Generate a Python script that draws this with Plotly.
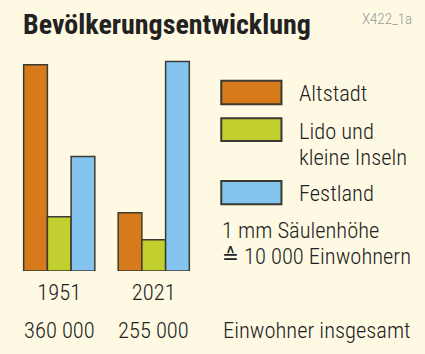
import plotly.graph_objects as go

years = ["1951", "2021"]
series_names = ["Altstadt", "Lido und<br>kleine Inseln", "Festland"]
altstadt = [198, 56]
lido = [52, 30]
festland = [110, 201]
totals = ["360 000", "255 000"]
colors = ["#D67A1B", "#C1D02F", "#84C4EE"]

W, H = 425, 354
L, R, T, B = 12.4, 200.8, 60, 271
FONT = "Roboto Condensed, DejaVu Sans Condensed, sans-serif"
BG = "#FEF9E2"
TXT = "#222222"
FS = 22.5
WT = 300

def px(x):
    return (x - L) / (R - L)

def py(y):
    return (B - y) / (B - T)

fig = go.Figure()
for name, vals, col in zip(series_names, [altstadt, lido, festland], colors):
    fig.add_trace(go.Bar(x=years, y=vals, name=name, marker=dict(color=col, line=dict(color="#3a3a30", width=1.5)),
                         showlegend=False))

# legend swatches
legend_rows = [(80.7, 104.3), (118.3, 141), (181, 204.3)]
for (y0, y1), col in zip(legend_rows, colors):
    fig.add_shape(type="rect", xref="paper", yref="paper", x0=px(221), x1=px(281), y0=py(y1), y1=py(y0),
                  fillcolor=col, line=dict(color="#3a3a30", width=2))

ann = []
def text(x, y, s, size=FS, xanchor="left", color=TXT, weight=WT, family=FONT):
    ann.append(dict(x=px(x), y=py(y), xref="paper", yref="paper", text=s, showarrow=False,
                    xanchor=xanchor, yanchor="middle",
                    font=dict(size=size, color=color, family=family, weight=weight)))

text(296, 93, "Altstadt")
text(296, 130.5, "Lido und")
text(296, 156.5, "kleine Inseln")
text(296, 193, "Festland")
text(220, 230, "1 mm Säulenhöhe")
text(220, 256, "≙ 10 000 Einwohnern")
text(21, 25, "Bevölkerungsentwicklung", size=28, weight=700)
text(413, 19, "X422_1a", size=15, xanchor="right", color="#9a9a9a")
text(221, 330, "Einwohner insgesamt")
for i, tot in enumerate(totals):
    ann.append(dict(x=i, y=py(330), xref="x", yref="paper", text=tot, showarrow=False,
                    xanchor="center", yanchor="middle",
                    font=dict(size=FS, color=TXT, family=FONT, weight=WT)))

fig.update_layout(
    width=W, height=H, margin=dict(l=L, r=W - R, t=T, b=H - B, pad=0),
    paper_bgcolor=BG, plot_bgcolor=BG, barmode="group", bargap=0.247, bargroupgap=0,
    annotations=ann, font=dict(family=FONT, color=TXT),
)
fig.update_xaxes(type="category", range=[-0.5, 1.5], showgrid=False, showline=False, zeroline=False, ticks="",
                 tickfont=dict(size=FS, family=FONT, color=TXT, weight=WT), ticklabelstandoff=5)
fig.update_yaxes(range=[0, (B - T) / 1.0417], visible=False, showgrid=False)
fig.write_html("out.html")
